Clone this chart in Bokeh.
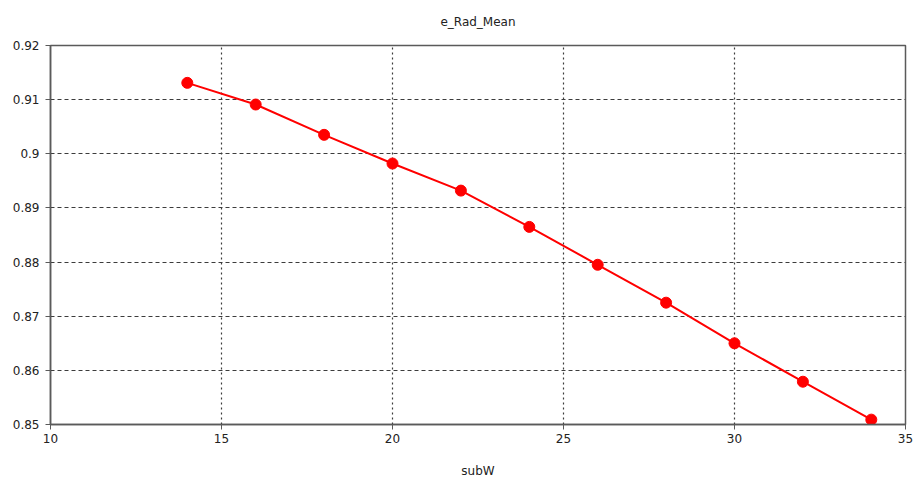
from bokeh.plotting import figure
from bokeh.models import FixedTicker, Range1d, ColumnDataSource
from bokeh.embed import file_html
from bokeh.resources import INLINE

# sweep of subW against mean radiation efficiency
sub_w = [14, 16, 18, 20, 22, 24, 26, 28, 30, 32, 34]
e_rad_mean = [0.9131, 0.9091, 0.9035, 0.8982, 0.8932, 0.8865,
              0.8795, 0.8725, 0.8650, 0.8579, 0.8509]

x_ticks = [10, 15, 20, 25, 30, 35]
y_ticks = [0.85, 0.86, 0.87, 0.88, 0.89, 0.90, 0.91, 0.92]
y_tick_labels = ["0.85", "0.86", "0.87", "0.88", "0.89", "0.9", "0.91", "0.92"]

FONT = "DejaVu Sans"
AXIS_COLOR = "#5a5a5a"
GRID_COLOR = "#3c3c3c"

src = ColumnDataSource(dict(x=sub_w, y=e_rad_mean))

p = figure(width=915, height=486, output_backend="svg", toolbar_location=None,
           x_range=Range1d(10, 35), y_range=Range1d(0.85, 0.92),
           min_border_left=50, min_border_right=10,
           min_border_top=45, min_border_bottom=62)

p.title.text = "e_Rad_Mean"
p.title.align = "center"
p.title.vertical_align = "top"
p.title.text_font = FONT
p.title.text_font_size = "12px"
p.title.text_font_style = "normal"
p.title.text_color = "#222222"
p.title.standoff = 29

p.line("x", "y", source=src, line_color="red", line_width=2)
p.scatter("x", "y", source=src, size=11, fill_color="red", line_color="red")

p.xaxis.ticker = FixedTicker(ticks=x_ticks)
p.yaxis.ticker = FixedTicker(ticks=y_ticks)
p.yaxis.major_label_overrides = {t: s for t, s in zip(y_ticks, y_tick_labels)}

p.xaxis.axis_label = "subW"
p.xaxis.axis_label_text_font = FONT
p.xaxis.axis_label_text_font_size = "12px"
p.xaxis.axis_label_text_font_style = "normal"
p.xaxis.axis_label_text_color = "#222222"
p.xaxis.axis_label_standoff = 18

for ax in (p.xaxis, p.yaxis):
    ax.axis_line_color = AXIS_COLOR
    ax.axis_line_width = 1.5
    ax.major_tick_line_color = AXIS_COLOR
    ax.major_tick_out = 5
    ax.major_tick_in = 0
    ax.minor_tick_line_color = None
    ax.major_label_text_font = FONT
    ax.major_label_text_font_size = "12px"
    ax.major_label_text_color = "#222222"

p.yaxis.major_label_standoff = 6
p.xaxis.major_label_standoff = 4

p.outline_line_color = AXIS_COLOR
p.outline_line_width = 1.5

p.xgrid.grid_line_color = GRID_COLOR
p.xgrid.grid_line_dash = "2 3"
p.xgrid.grid_line_width = 1.2
p.ygrid.grid_line_color = GRID_COLOR
p.ygrid.grid_line_dash = "4 3"
p.ygrid.grid_line_width = 1

open("out.html", "w").write(file_html(p, INLINE))
